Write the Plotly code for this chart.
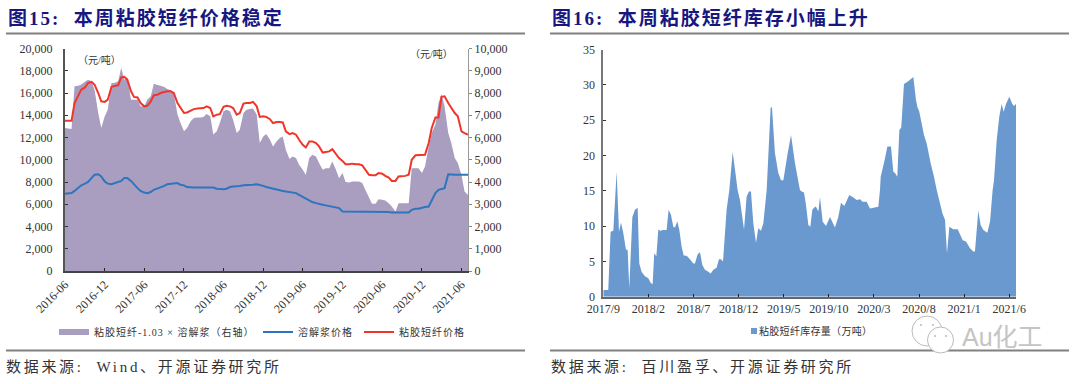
import plotly.graph_objects as go
import pandas as pd

W, H = 1080, 384
# ---------- Figure 15 data (half-month observations from 2016-06) ----------
pulp_spread = [6430,6400,6380,8300,8330,8380,8500,8600,8530,8150,7100,6430,6950,7250,8450,8450,8530,9130,8600,8680,
 7700,7700,7700,7400,7400,7700,7850,8420,8360,8330,8270,8180,8120,8000,7030,6650,6280,6430,6730,6880,
 6900,6900,6920,7060,6950,6130,6280,6650,7180,7250,7180,6800,6200,6350,7100,7250,7280,7300,7030,5750,
 6050,6160,5900,5600,5830,5980,6050,5450,5030,5150,5080,4780,4550,4320,5080,5220,5150,4850,4550,4620,
 4620,4920,4550,4170,4400,4000,3980,4020,4020,4020,3950,3650,3300,3020,3020,3230,3200,3170,3050,2900,
 2670,3050,3050,3050,3050,4620,4620,4620,4400,4700,5600,6200,6580,7550,7960,7400,6200,5750,5080,4850,
 4320,3570,3420]
pulp_price = [6950,6950,7000,7200,7500,7700,7850,8000,8350,8650,8700,8500,8050,7850,7800,7900,7950,8100,8350,8350,
 8100,7750,7450,7200,7050,7000,7100,7300,7400,7500,7650,7800,7850,7900,7900,7750,7700,7550,7500,7500,
 7500,7500,7500,7500,7500,7500,7400,7350,7350,7400,7550,7600,7600,7650,7700,7700,7700,7750,7800,7750,
 7650,7550,7450,7400,7300,7250,7200,7150,7100,7000,7000,6850,6650,6500,6350,6200,6100,6000,5950,5900,
 5850,5800,5700,5650,5350,5350,5350,5350,5350,5350,5350,5350,5350,5350,5350,5350,5350,5350,5300,5250,
 5250,5250,5250,5250,5250,5500,5600,5600,5700,5750,5800,6300,7000,7300,7400,7450,8700,8650,8650,8650,
 8650,8650,8650]
fiber_price = [13500,13500,13500,15100,15850,16300,16500,16900,17000,16750,16000,15250,15200,15400,16550,16600,16700,17400,17450,17200,
 16150,15650,15600,15100,14800,14850,15250,15800,15850,16000,16100,16150,16150,16000,15100,14650,14200,14250,14450,14550,
 14600,14600,14650,14800,14650,13900,14050,14100,14750,14850,14800,14650,14050,14200,15050,15100,15100,15200,14800,13850,
 13900,13850,13650,13300,13400,13400,13350,12550,12300,12400,12250,11800,11350,11100,11650,11650,11500,11200,10650,10700,
 10750,10950,10550,10150,9900,9600,9600,9650,9600,9600,9500,9100,8650,8600,8600,8800,8750,8550,8400,8100,
 8100,8500,8500,8550,8650,10000,10400,10400,10400,10450,11500,12850,13800,13800,15650,15700,15100,14650,14200,13900,
 12550,12400,12250]
dates15 = pd.date_range("2016-06-01", periods=len(fiber_price), freq="SMS")
ticks15 = ["2016-06","2016-12","2017-06","2017-12","2018-06","2018-12","2019-06","2019-12","2020-06","2020-12","2021-06"]

# ---------- Figure 16 data (months since 2017/9, stock in 10k tons) ----------
months16 = [0,.55,.81,1.11,1.48,1.74,1.96,2.22,2.51,2.70,2.88,3.22,3.51,3.81,3.99,4.25,4.62,4.99,5.28,5.47,5.65,5.88,6.10,6.36,6.54,
 7.02,7.24,7.50,7.76,7.95,8.20,8.43,8.68,8.91,9.24,9.61,9.98,10.16,10.46,10.72,10.98,11.27,11.64,11.90,12.20,12.56,12.82,13.05,13.27,13.67,
 13.97,14.34,14.60,14.89,15.15,15.60,15.89,16.15,16.37,16.63,16.93,17.18,17.48,17.74,18.11,18.55,18.70,19.03,19.40,19.70,19.96,20.44,20.81,21.25,21.80,
 21.99,22.25,22.47,22.73,22.95,23.17,23.47,23.58,23.84,24.02,24.32,24.69,25.13,25.68,26.05,26.35,26.72,27.27,27.72,28.09,28.46,28.75,29.19,29.56,30.49,
 30.67,30.75,31.23,31.49,31.89,32.15,32.34,32.59,32.82,33.03,33.33,33.81,34.37,34.66,34.81,35.03,35.55,35.85,36.29,36.66,36.96,37.33,37.59,37.88,38.10,
 38.36,38.80,39.29,39.84,40.21,40.65,41.02,41.20,41.57,41.83,42.13,42.57,42.87,43.16,43.31,43.61,43.90,44.16,44.38,44.64,45.01,45.34,45.53,45.75]
stock16 = [.95,.95,9.2,9.35,17.7,9.2,10.5,9,6.7,6.6,1.2,11.3,12.3,12.6,4.7,3.5,2.9,2.6,1.9,1.8,6.2,5.7,9.5,9.3,9.45,
 9.45,12.3,11.6,9.9,9.8,10.7,9.45,7.1,5.85,5.8,5.3,4.7,4.7,6,6.3,4.5,3.8,3.55,3.3,3.8,4.1,5.3,5.3,5,12.3,
 15.1,20.5,18,15.1,13.7,9.5,14.2,14.9,14.9,10.4,7.65,9.7,9.35,10.4,15.1,26.8,26.8,20.3,17.5,16.5,16.5,20.3,22.9,18.9,15.1,
 14.9,14.75,13,10.15,9.9,12.3,12.75,12.75,12.05,14.1,10.6,10,11.3,9.8,11.3,13.3,12.85,14.4,14.05,13.7,13.8,13.45,13.45,12.5,12.75,
 15.1,17,19.6,21.25,21.25,17.7,17.5,17,23.6,23.95,30.1,30.5,31.1,27.9,26.9,26.2,22.9,21.7,18.9,17,15.1,13.2,11.8,10.9,6.15,
 9.9,9.55,9.55,8,7.8,6.85,6.4,6.4,12.2,10.15,9.45,9.05,10.6,15.1,16.5,22.2,25.5,27.3,26.2,27.3,28.3,27.3,27,27.3]
ticks16_labels = ["2017/9","2018/2","2018/7","2018/12","2019/5","2019/10","2020/3","2020/8","2021/1","2021/6"]
ticks16_months = [0,5,10,15,20,25,30,35,40,45]
assert len(months16) == len(stock16)
assert len(pulp_spread) == len(pulp_price) == len(fiber_price)

SERIF = "Liberation Serif, Noto Sans CJK SC, serif"
COL_TXT = "#333333"
fx = lambda p: p / W
fy = lambda p: 1 - p / H
spaced = lambda t, s: f'<span style="letter-spacing:{s}px">{t}</span>'

fig = go.Figure()
fig.add_trace(go.Scatter(x=dates15, y=pulp_spread, mode="none", fill="tozeroy", fillcolor="#A99DC0",
    name=spaced("粘胶短纤-1.03 × 溶解浆（右轴）", 1), xaxis="x", yaxis="y", legend="legend"))
fig.add_trace(go.Scatter(x=dates15, y=pulp_price, mode="lines", line=dict(color="#2E75BE", width=2),
    name=spaced("溶解浆价格", 1), xaxis="x", yaxis="y2", legend="legend2"))
fig.add_trace(go.Scatter(x=dates15, y=fiber_price, mode="lines", line=dict(color="#F0362B", width=2),
    name=spaced("粘胶短纤价格", 1), xaxis="x", yaxis="y2", legend="legend3"))
fig.add_trace(go.Scatter(x=months16, y=stock16, mode="none", fill="tozeroy", fillcolor="#6A99CF",
    name="粘胶短纤库存量（万吨）", xaxis="x3", yaxis="y3", showlegend=False))

tf = dict(family=SERIF, size=12, color=COL_TXT)
leg = lambda x, y: dict(x=fx(x), y=fy(y), xanchor="left", yanchor="middle", orientation="h",
                        bgcolor="rgba(0,0,0,0)", font=dict(family=SERIF, size=10, color=COL_TXT),
                        itemwidth=30, tracegroupgap=0)
fig.update_layout(
    width=W, height=H, autosize=False, margin=dict(l=0, r=0, t=0, b=0, autoexpand=False),
    paper_bgcolor="white", plot_bgcolor="white",
    xaxis=dict(domain=[fx(65), fx(468)], type="date", range=[dates15[0], dates15[-1]],
               tickvals=[t + "-01" for t in ticks15], ticktext=ticks15, tickangle=-45,
               ticks="inside", ticklen=3, tickcolor="#222", tickfont=tf, showgrid=False, zeroline=False,
               showline=True, linecolor="#444", linewidth=1.5, anchor="y"),
    yaxis=dict(domain=[fy(271), fy(48.5)], range=[0, 10000], side="right", anchor="x",
               tickvals=list(range(0, 10001, 1000)), tickformat=",d", ticks="outside", ticklen=3,
               tickcolor="#888", tickfont=tf, showgrid=False, zeroline=False,
               showline=True, linecolor="#999", linewidth=1),
    yaxis2=dict(overlaying="y", range=[0, 20000], side="left", anchor="x",
                tickvals=list(range(0, 20001, 2000)), tickformat=",d", ticks="inside", ticklen=3,
                ticklabelstandoff=8, tickcolor="#333", tickfont=tf, showgrid=False, zeroline=False,
                showline=True, linecolor="#555", linewidth=2),
    xaxis3=dict(domain=[fx(603.3), fx(1016)], range=[0, 45.75], tickvals=ticks16_months, ticktext=ticks16_labels,
                tickangle=0, ticks="inside", ticklen=3, tickcolor="#222", tickfont=tf, showgrid=False,
                zeroline=False, showline=True, linecolor="#666", linewidth=1.5, anchor="y3"),
    yaxis3=dict(domain=[fy(296.7), fy(49.5)], range=[0, 35], tickvals=list(range(0, 36, 5)), ticks="inside",
                ticklen=3, ticklabelstandoff=4, tickcolor="#333", tickfont=tf, showgrid=False, zeroline=False,
                showline=True, linecolor="#777", linewidth=2, anchor="x3"),
    legend=leg(54, 332), legend2=leg(258, 332), legend3=leg(359, 332),
    showlegend=True,
)

def note(x, y, text, size, color=COL_TXT, anchor="left", family=SERIF, **kw):
    fig.add_annotation(x=fx(x), y=fy(y), xref="paper", yref="paper", text=text, showarrow=False,
                       xanchor=anchor, yanchor="middle", font=dict(size=size, color=color, family=family), **kw)

NAVY = "#17177F"
note(6, 18, "<b>" + spaced("图15:  本周粘胶短纤价格稳定", 2) + "</b>", 19, NAVY)
note(550, 18, "<b>" + spaced("图16:  本周粘胶短纤库存小幅上升", 2) + "</b>", 19, NAVY)
note(4, 367, spaced("数据来源:  Wind、开源证券研究所", 2.7), 15)
note(549, 367, spaced("数据来源:  百川盈孚、开源证券研究所", 2.7), 15)
note(76, 60, "（元/吨）", 10)
note(408, 54, "（元/吨）", 10)

# Legend of Figure 16
fig.add_shape(type="rect", xref="paper", yref="paper", x0=fx(751), x1=fx(757), y0=fy(334), y1=fy(328),
              fillcolor="#6A99CF", line=dict(width=0))
note(757, 331, spaced("粘胶短纤库存量（万吨）", 0.3), 10)

for x0, x1 in [(6, 525), (550, 1069)]:
    for y in (33.5, 350.6):
        fig.add_shape(type="line", xref="paper", yref="paper", x0=fx(x0), x1=fx(x1), y0=fy(y), y1=fy(y),
                      line=dict(color="#808080", width=2))

# Watermark
for cx, cy, r in [(927, 331, 15), (940.5, 340, 13)]:
    fig.add_shape(type="circle", xref="paper", yref="paper", x0=fx(cx - r), x1=fx(cx + r), y0=fy(cy + r), y1=fy(cy - r),
                  line=dict(color="#BBBBBB", width=1), fillcolor="white")
for cx, cy in [(921, 325), (933, 325), (935, 336), (946, 336)]:
    fig.add_shape(type="circle", xref="paper", yref="paper", x0=fx(cx - 1), x1=fx(cx + 1), y0=fy(cy + 1), y1=fy(cy - 1),
                  line=dict(width=0), fillcolor="#BBBBBB")
note(960, 337, "Au化工", 25, "#C4C4C4", family="Liberation Sans, Noto Sans CJK SC")

fig.write_html("out.html", config=dict(displayModeBar=False), post_script="document.body.style.margin='0';document.body.style.overflow='hidden';")
